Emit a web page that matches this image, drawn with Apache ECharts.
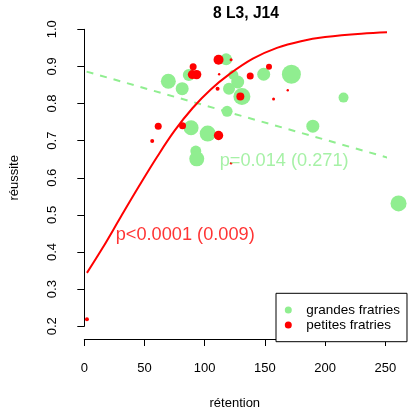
<!DOCTYPE html>
<html>
<head>
<meta charset="utf-8">
<script src="https://cdn.jsdelivr.net/npm/echarts@6/dist/echarts.min.js"></script>
<style>
  html, body { margin: 0; padding: 0; background: #ffffff; }
  #chart { width: 413px; height: 415px; }
</style>
</head>
<body>
<div id="chart"></div>
<script>
// Grandes fratries: rétention, réussite, poids (rayon du point)
const retentionGrandes = [69.8, 81.3, 86.8, 117.8, 123.8, 127.4, 120.2, 130.9, 149.0, 172.0, 215.3, 118.6, 88.7, 102.5, 92.6, 93.4, 261.0, 189.8];
const reussiteGrandes  = [0.860, 0.840, 0.877, 0.919, 0.877, 0.858, 0.840, 0.819, 0.879, 0.879, 0.816, 0.779, 0.735, 0.719, 0.672, 0.651, 0.531, 0.739];
const poidsGrandes     = [7.5, 6.5, 6, 6, 5, 6.5, 6, 8.5, 6.5, 9.5, 5, 5.5, 7.5, 8, 5.5, 7.5, 8, 6.5];

// Petites fratries
const retentionPetites = [111.5, 121.9, 90.4, 89.7, 93.3, 112.0, 137.8, 153.4, 110.7, 129.6, 157.2, 169.0, 61.4, 81.6, 56.4, 111.5, 121.9, 2.2];
const reussitePetites  = [0.918, 0.918, 0.899, 0.878, 0.878, 0.879, 0.874, 0.899, 0.840, 0.819, 0.812, 0.836, 0.739, 0.740, 0.699, 0.714, 0.639, 0.219];
const poidsPetites     = [5, 1.5, 3.5, 4.5, 4.7, 1.2, 3.5, 3, 2, 4, 1.5, 1.2, 3.5, 3.5, 2, 4.7, 1.2, 2];

// Courbe logistique ajustée (petites fratries)
const courbeX = [2.2, 15, 30, 45, 60, 75, 90, 105, 120, 140, 160, 180, 200, 230, 261];
const courbeY = [0.344, 0.410, 0.493, 0.575, 0.654, 0.727, 0.788, 0.838, 0.878, 0.921, 0.950, 0.968, 0.979, 0.988, 0.993];

// Droite ajustée (grandes fratries)
const droiteX = [1.9, 261];
const droiteY = [0.886, 0.646];

// Ticks des axes
const ticksX = [0, 50, 100, 150, 200, 250];
const ticksY = [0.2, 0.3, 0.4, 0.5, 0.6, 0.7, 0.8, 0.9, 1.0];

// Annotations des tests
const annotVert  = { x: 166, y: 0.644, texte: 'p=0.014 (0.271)' };
const annotRouge = { x: 83.8, y: 0.446, texte: 'p<0.0001 (0.009)' };

const VERT = '#90EE90';
const ROUGE = '#FF0000';
const FONT = "'Liberation Sans', Arial, sans-serif";

const zip3 = (a, b, c) => a.map((v, i) => [v, b[i], c[i]]);
const zip2 = (a, b) => a.map((v, i) => [v, b[i]]);

const chart = echarts.init(document.getElementById('chart'), null, { renderer: 'canvas' });

chart.setOption({
  animation: false,
  backgroundColor: '#ffffff',
  textStyle: { fontFamily: FONT, color: '#000' },
  title: {
    text: '8 L3, J14',
    left: 241,
    top: 1,
    textAlign: 'center',
    textStyle: { fontFamily: FONT, fontSize: 15.6, fontWeight: 'bold', color: '#000' }
  },
  grid: { left: 81, right: 27.7, top: 29.3, bottom: 81, containLabel: false },
  xAxis: {
    type: 'value',
    min: ticksX[0],
    max: ticksX[ticksX.length - 1],
    interval: 50,
    offset: 12.7,
    name: 'rétention',
    nameLocation: 'middle',
    nameGap: 58,
    nameTextStyle: { fontFamily: FONT, fontSize: 13, color: '#000' },
    axisLine: { show: true, lineStyle: { color: '#000', width: 1 } },
    axisTick: { show: true, inside: false, length: 7, lineStyle: { color: '#000' } },
    axisLabel: { fontFamily: FONT, fontSize: 13, color: '#000', margin: 23 },
    splitLine: { show: false }
  },
  yAxis: {
    type: 'value',
    min: ticksY[0],
    max: ticksY[ticksY.length - 1],
    interval: 0.1,
    offset: 9.3,
    name: 'réussite',
    nameLocation: 'middle',
    nameGap: 54,
    nameRotate: 90,
    nameTextStyle: { fontFamily: FONT, fontSize: 13, color: '#000' },
    axisLine: { show: true, lineStyle: { color: '#000', width: 1 } },
    axisTick: { show: true, inside: false, length: 7, lineStyle: { color: '#000' } },
    axisLabel: {
      fontFamily: FONT, fontSize: 13, color: '#000', margin: 16.5, rotate: 90,
      formatter: v => v.toFixed(1)
    },
    splitLine: { show: false }
  },
  legend: {
    orient: 'vertical',
    left: 276,
    top: 293.3,
    data: ['grandes fratries', 'petites fratries'],
    icon: 'circle',
    itemWidth: 7,
    itemHeight: 7,
    itemGap: 0,
    padding: [9.2, 7, 9.2, 8.8],
    borderColor: '#000',
    borderWidth: 1,
    backgroundColor: '#fff',
    textStyle: { fontFamily: FONT, fontSize: 13.5, color: '#000', lineHeight: 15, padding: [0, 0, 0, 9.4] }
  },
  series: [
    {
      name: 'grandes fratries',
      type: 'scatter',
      data: zip3(retentionGrandes, reussiteGrandes, poidsGrandes),
      symbol: 'circle',
      symbolSize: d => d[2] * 2,
      itemStyle: { color: VERT, opacity: 1 },
      clip: false,
      z: 2
    },
    {
      name: 'petites fratries',
      type: 'scatter',
      data: zip3(retentionPetites, reussitePetites, poidsPetites),
      symbol: 'circle',
      symbolSize: d => d[2] * 2,
      itemStyle: { color: ROUGE, opacity: 1 },
      clip: false,
      z: 3
    },
    {
      name: 'droite',
      type: 'line',
      data: zip2(droiteX, droiteY),
      showSymbol: false,
      symbol: 'none',
      lineStyle: { color: VERT, width: 2, type: [7, 7] },
      clip: false,
      z: 4
    },
    {
      name: 'logistique',
      type: 'line',
      data: zip2(courbeX, courbeY),
      smooth: 0.4,
      showSymbol: false,
      symbol: 'none',
      lineStyle: { color: ROUGE, width: 2 },
      clip: false,
      z: 5
    },
    {
      name: 'annotations',
      type: 'scatter',
      symbol: 'circle',
      symbolSize: 1,
      clip: false,
      silent: true,
      z: 6,
      itemStyle: { color: 'rgba(0,0,0,0)' },
      data: [
        { value: [annotVert.x, annotVert.y], label: { formatter: annotVert.texte, color: VERT } },
        { value: [annotRouge.x, annotRouge.y], label: { formatter: annotRouge.texte, color: ROUGE } }
      ],
      label: {
        show: true,
        position: 'inside',
        fontFamily: FONT,
        fontSize: 18.2,
        align: 'center',
        verticalAlign: 'middle'
      }
    }
  ]
});
</script>
</body>
</html>
